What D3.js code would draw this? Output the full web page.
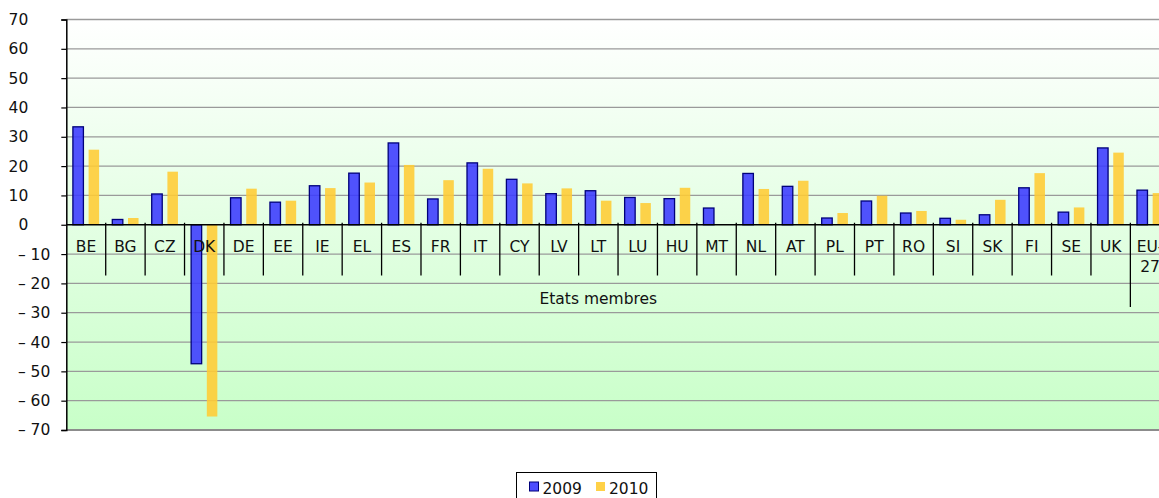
<!DOCTYPE html>
<html>
<head>
<meta charset="utf-8">
<script src="https://cdn.jsdelivr.net/npm/d3@7"></script>
<style>
  html, body { margin: 0; padding: 0; background: #ffffff; overflow: hidden; }
  svg { display: block; font-family: "DejaVu Sans", Verdana, sans-serif; }
</style>
</head>
<body>
<svg id="chart" width="1159" height="498"></svg>
<script>
const categories = ["BE","BG","CZ","DK","DE","EE","IE","EL","ES","FR","IT","CY","LV","LT","LU","HU","MT","NL","AT","PL","PT","RO","SI","SK","FI","SE","UK","EU-27"];
const series2009 = [33.4,1.8,10.5,-47.4,9.2,7.7,13.3,17.6,27.9,8.8,21.1,15.5,10.6,11.6,9.3,8.9,5.7,17.5,13.1,2.3,8.1,4.0,2.2,3.4,12.6,4.3,26.2,11.8];
const series2010 = [25.6,2.3,18.1,-65.4,12.3,8.2,12.5,14.4,20.4,15.2,19.1,14.1,12.4,8.2,7.4,12.6,0,12.2,15.0,4.0,9.9,4.7,1.7,8.5,17.6,5.9,24.6,10.8];
const seriesNames = ["2009","2010"];
const yTicks = [-70,-60,-50,-40,-30,-20,-10,0,10,20,30,40,50,60,70];
const groupLabel = "Etats membres";
const groupCount = 27;

(function () {
const svg = d3.select("#chart");
const W = 1159;
const mLeft = 66.3, mTop = 19.5, mBottom = 430;
const bandW = 39.41;

const x = d3.scaleBand().domain(categories).range([mLeft, mLeft + bandW * categories.length]).padding(0);
const xs = d3.scaleBand().domain(seriesNames).range([0, x.bandwidth()]).paddingInner(0.33).paddingOuter(0.42);
const y = d3.scaleLinear().domain([-70, 70]).range([mBottom, mTop]);
const colors = {"2009": "#3a3aff", "2010": "#ffcc33"};

// background gradient
const defs = svg.append("defs");
const grad = defs.append("linearGradient").attr("id", "bg").attr("x1", 0).attr("y1", 0).attr("x2", 0).attr("y2", 1);
grad.append("stop").attr("offset", "0%").attr("stop-color", "#ffffff");
grad.append("stop").attr("offset", "100%").attr("stop-color", "#c8ffc8");
svg.append("rect").attr("x", mLeft).attr("y", y(70)).attr("width", W - mLeft + 20).attr("height", y(-70) - y(70)).attr("fill", "url(#bg)");

// gridlines
svg.append("g").selectAll("line").data(yTicks.filter(d => d !== 0 && d !== -70)).join("line")
  .attr("x1", mLeft).attr("x2", W + 20).attr("y1", d => y(d)).attr("y2", d => y(d))
  .attr("stroke", "#9a9a9a").attr("stroke-width", 1.3);
svg.append("line").attr("x1", mLeft).attr("x2", W + 20).attr("y1", y(-70)).attr("y2", y(-70))
  .attr("stroke", "#8c8c8c").attr("stroke-width", 2);

// category separators (level 1)
const bounds = categories.slice(1).map(c => x(c));
svg.append("g").selectAll("line").data(bounds).join("line")
  .attr("x1", d => d).attr("x2", d => d)
  .attr("y1", y(0) - 2).attr("y2", (d, i) => i === groupCount - 1 ? 307 : 275.5)
  .attr("stroke", "#000").attr("stroke-width", 1.3);

// bars
const barData = [];
categories.forEach((c, i) => {
  barData.push({c, s: "2009", v: series2009[i]});
  barData.push({c, s: "2010", v: series2010[i]});
});
svg.append("g").selectAll("rect").data(barData.filter(d => d.v !== 0)).join("rect")
  .attr("x", d => x(d.c) + xs(d.s))
  .attr("width", xs.bandwidth())
  .attr("y", d => y(Math.max(0, d.v)))
  .attr("height", d => Math.abs(y(d.v) - y(0)))
  .attr("fill", d => colors[d.s])
  .attr("fill-opacity", 0.88)
  .attr("stroke", d => d.s === "2009" ? "#00007a" : "none")
  .attr("stroke-width", 1.3);

// zero line
svg.append("line").attr("x1", mLeft).attr("x2", W + 20).attr("y1", y(0)).attr("y2", y(0))
  .attr("stroke", "#000").attr("stroke-width", 1.5);

// y axis
const yAxis = d3.axisLeft(y).tickValues(yTicks).tickSize(5).tickPadding(8)
  .tickFormat(d => d < 0 ? "\u2013 " + Math.abs(d) : String(d));
const ya = svg.append("g").attr("transform", `translate(${mLeft},0)`).call(yAxis);
ya.select(".domain").attr("stroke", "#000").attr("stroke-width", 1.5);
ya.selectAll(".tick line").attr("stroke", "#000").attr("stroke-width", 1.2);
ya.selectAll(".tick text")
  .attr("font-size", "15.5px").attr("fill", "#111")
  .attr("font-family", "DejaVu Sans, Verdana, sans-serif")
  .attr("x", d => d < 0 ? -16 : -38);

// category labels
const lab = svg.append("g").selectAll("text").data(categories).join("text")
  .attr("x", d => x(d) + x.bandwidth() / 2)
  .attr("y", 252)
  .attr("text-anchor", "middle")
  .attr("font-size", "15.5px").attr("fill", "#111");
lab.each(function(d) {
  const t = d3.select(this);
  if (d.indexOf("-") >= 0) {
    const parts = d.split("-");
    t.append("tspan").attr("x", x(d) + x.bandwidth() / 2).text(parts[0] + "-");
    t.append("tspan").attr("x", x(d) + x.bandwidth() / 2).attr("dy", 20).text(parts[1]);
  } else {
    t.text(d);
  }
});

// group label
const gStart = x(categories[0]), gEnd = x(categories[groupCount - 1]) + x.bandwidth();
svg.append("text").attr("x", (gStart + gEnd) / 2).attr("y", 303.5)
  .attr("text-anchor", "middle").attr("font-size", "15.5px").attr("fill", "#111").text(groupLabel);

// legend
const lg = svg.append("g");
lg.append("rect").attr("x", 516.5).attr("y", 472.5).attr("width", 140).attr("height", 40)
  .attr("fill", "#fff").attr("stroke", "#000").attr("stroke-width", 1);
const legendX = {"2009": 529.5, "2010": 596};
seriesNames.forEach(s => {
  lg.append("rect").attr("x", legendX[s]).attr("y", 482).attr("width", 9).attr("height", 9)
    .attr("fill", colors[s]).attr("fill-opacity", 0.9)
    .attr("stroke", s === "2009" ? "#00007a" : "none").attr("stroke-width", 1);
  lg.append("text").attr("x", legendX[s] + 13).attr("y", 493.5)
    .attr("font-size", "15.5px").attr("fill", "#111").text(s);
});
})();
</script>
</body>
</html>
